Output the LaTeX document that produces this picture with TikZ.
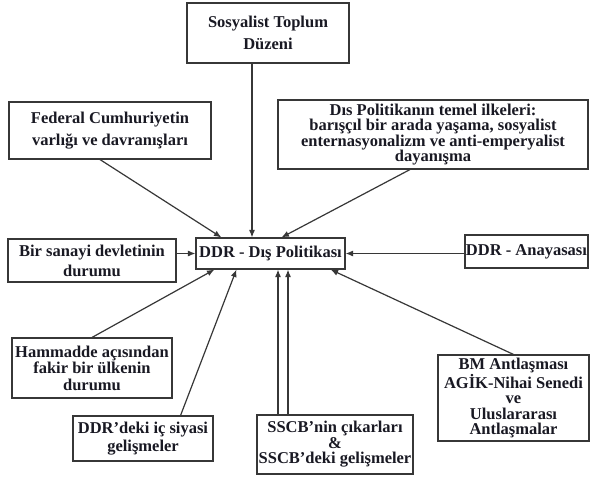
\documentclass[tikz,border=0pt]{standalone}
\usepackage{fontspec}
\setmainfont{Liberation Serif}
\usepackage{tikz}
\usetikzlibrary{arrows.meta}
\definecolor{boxline}{RGB}{55,55,55}
\definecolor{inktext}{RGB}{25,25,35}
\tikzset{
    % boxes
    dbox/.style={rectangle, draw=boxline, line width=1.1pt, align=center,
                 inner sep=1pt, text=inktext,
                 font=\fontsize{16.5}{#1}\selectfont\bfseries},
    dbox/.default=22,
    % arrows into the center box
    darrow/.style={-{Latex[length=7.5pt,width=6pt]}, line width=1.2pt, boxline},
}
\begin{document}
\begin{tikzpicture}[x=1pt, y=-1pt]
\fill[white] (0,0) rectangle (592,479);
\useasboundingbox (0,0) rectangle (592,479);

\node[dbox, minimum width=162pt, minimum height=60pt] (soz)      at (268,33)    {Sosyalist Toplum\\Düzeni};
\node[dbox, minimum width=202pt, minimum height=57pt] (fed)      at (110,130.5) {Federal Cumhuriyetin\\varlığı ve davranışları};
\node[dbox=15.5, minimum width=310pt, minimum height=69pt] (ilke) at (433,134.5) {Dıs Politikanın temel ilkeleri:\\barışçıl bir arada yaşama, sosyalist\\enternasyonalizm ve anti-emperyalist\\dayanışma};
\node[dbox, minimum width=149pt, minimum height=31pt] (dp)       at (270.5,253.5) {DDR - Dış Politikası};
\node[dbox=20, minimum width=168pt, minimum height=43pt] (sanayi) at (92,260.5) {Bir sanayi devletinin\\durumu};
\node[dbox, minimum width=123pt, minimum height=33pt] (anayasa)  at (526.5,251.5) {DDR - Anayasası};
\node[dbox=16.5, minimum width=160pt, minimum height=60pt] (ham) at (92,368) {Hammadde açısından\\fakir bir ülkenin\\durumu};
\node[dbox=18, minimum width=140pt, minimum height=45pt] (icsiyasi) at (143,438.5) {DDR'deki iç siyasi\\gelişmeler};
\node[dbox=15.5, minimum width=156pt, minimum height=59pt] (sscb) at (335,444.5) {SSCB'nin çıkarları\\\&\\SSCB'deki gelişmeler};
\node[dbox=15.5, minimum width=151pt, minimum height=86pt] (bm)   at (513.5,398) {BM Antlaşması\\AGİK-Nihai Senedi\\ve\\Uluslararası\\Antlaşmalar};

\draw[darrow] ([xshift=-16pt]soz.south) -- ([xshift=-16pt]soz.south |- dp.north);
\draw[darrow] ([xshift=-10pt]fed.south) -- ([xshift=26pt]dp.north west);
\draw[darrow] ([xshift=-23pt]ilke.south) -- ([xshift=86pt]dp.north west);
\draw[darrow] (sanayi.east |- dp.west) -- (dp.west);
\draw[darrow] (anayasa.west |- dp.east) -- (dp.east);
\draw[darrow] (ham.north) -- ([xshift=19pt]dp.south west);
\draw[darrow] ([xshift=-33pt]icsiyasi.north east) -- ([xshift=41pt]dp.south west);
\draw[darrow] ([xshift=-57pt]sscb.north) -- ([xshift=-57pt]sscb.north |- dp.south);
\draw[darrow] ([xshift=-47pt]sscb.north) -- ([xshift=-47pt]sscb.north |- dp.south);
\draw[darrow] (bm.north) -- ([xshift=-15pt]dp.south east);
\end{tikzpicture}
\end{document}
